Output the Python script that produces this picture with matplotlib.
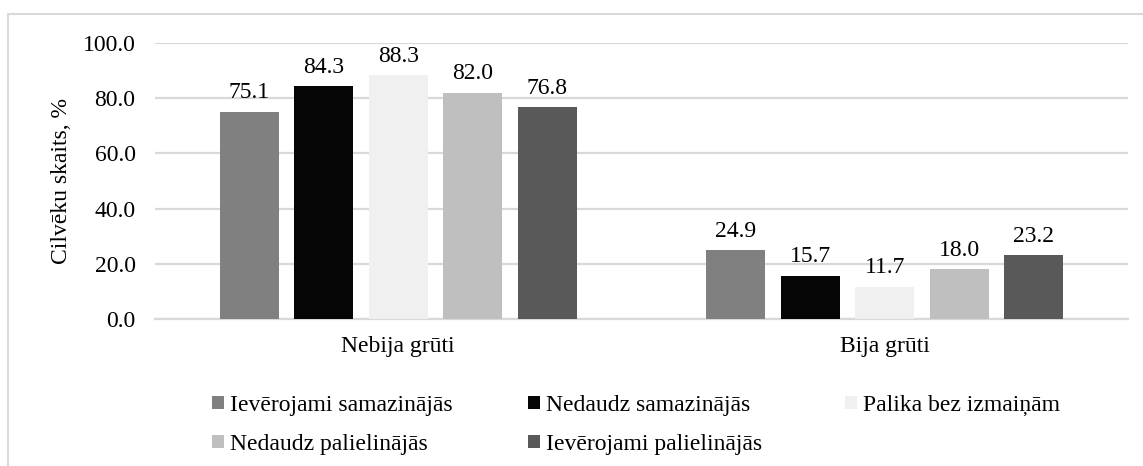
import matplotlib
matplotlib.use("Agg")
import matplotlib.pyplot as plt
from matplotlib.patches import Patch, Rectangle
import numpy as np

plt.rcParams['font.family'] = ['Liberation Serif', 'DejaVu Serif']

categories = ["Nebija grūti", "Bija grūti"]
series_names = ["Ievērojami samazinājās", "Nedaudz samazinājās", "Palika bez izmaiņām",
                "Nedaudz palielinājās", "Ievērojami palielinājās"]
series_values = [
    [75.1, 24.9],
    [84.3, 15.7],
    [88.3, 11.7],
    [82.0, 18.0],
    [76.8, 23.2],
]
colors = ["#808080", "#050505", "#f0f0f0", "#bfbfbf", "#595959"]
yticks = [0, 20, 40, 60, 80, 100]

W, H = 1143, 466
fig = plt.figure(figsize=(W / 100, H / 100), dpi=100)
ax = fig.add_axes([155 / W, 1 - 319 / H, (1128 - 155) / W, (319 - 43) / H])

fs = 17
x = np.arange(len(categories))
step = 0.1533
width = 0.121
for i, (name, vals, c) in enumerate(zip(series_names, series_values, colors)):
    pos = x + (i - 2) * step
    bars = ax.bar(pos, vals, width=width, color=c, label=name, zorder=3)
    for b, v in zip(bars, vals):
        ax.annotate(f"{v:.1f}", (b.get_x() + b.get_width() / 2, v),
                    xytext=(0, 6), textcoords="offset points",
                    ha="center", va="bottom", fontsize=fs, color="#000000")

ax.set_xlim(-0.5, 1.5)
ax.set_ylim(0, 100)
ax.set_yticks(yticks)
ax.set_yticklabels([f"{t:.1f}" for t in yticks], fontsize=fs)
ax.set_xticks(x)
ax.set_xticklabels(categories, fontsize=fs)
ax.tick_params(axis="y", length=0, pad=14)
ax.tick_params(axis="x", length=0, pad=12)
ax.grid(axis="y", color="#d9d9d9", linewidth=1.6, zorder=0)
for s in ["top", "right", "left"]:
    ax.spines[s].set_visible(False)
ax.spines["bottom"].set_color("#d9d9d9")
ax.spines["bottom"].set_linewidth(1.6)
ax.set_ylabel("Cilvēku skaits, %", fontsize=fs, labelpad=8)

# legend laid out in three equal-width columns
handles = [Patch(facecolor=c, edgecolor="none") for c in colors]
cols = [[0, 3], [1, 4], [2]]
col_x = [212, 528, 845]
for idx, cx in zip(cols, col_x):
    fig.legend([handles[k] for k in idx], [series_names[k] for k in idx],
               loc="upper left", bbox_to_anchor=(cx / W, 1 - 395 / H),
               frameon=False, fontsize=fs, handlelength=0.5, handleheight=0.5,
               handletextpad=0.25, labelspacing=0.75, borderpad=0, borderaxespad=0)

fig.patches.append(Rectangle((8 / W, -0.05), 1.2, 1 - 14 / H + 0.05,
                             transform=fig.transFigure, fill=False,
                             edgecolor="#d9d9d9", linewidth=1.5))

fig.savefig("out.png", dpi=100)
